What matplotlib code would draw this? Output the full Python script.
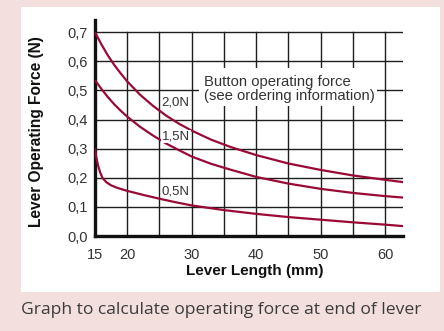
import matplotlib
matplotlib.use("Agg")
import matplotlib.pyplot as plt
from matplotlib.patches import Rectangle

plt.rcParams['font.family'] = ['Liberation Sans', 'DejaVu Sans']

# Lever length (mm) and operating force (N) for each button force
len_20 = [15, 16, 17, 18, 19, 20, 22, 24, 26, 28, 30, 33, 36, 40, 45, 50, 55, 60, 62.8]
force_20 = [0.700, 0.658, 0.620, 0.587, 0.558, 0.531, 0.485, 0.447, 0.414, 0.386,
            0.362, 0.331, 0.306, 0.278, 0.249, 0.227, 0.208, 0.193, 0.185]

len_15 = [15, 16, 17, 18, 19, 20, 22, 24, 26, 28, 30, 33, 36, 40, 45, 50, 55, 60, 62.8]
force_15 = [0.535, 0.505, 0.477, 0.452, 0.430, 0.410, 0.375, 0.345, 0.318, 0.295,
            0.273, 0.248, 0.228, 0.203, 0.180, 0.162, 0.148, 0.137, 0.132]

len_05 = [15, 15.2, 15.5, 15.8, 16.2, 16.8, 17.5, 18.5, 20, 22.5, 25, 27.5, 30,
          35, 40, 45, 50, 55, 60, 62.8]
force_05 = [0.300, 0.270, 0.240, 0.218, 0.198, 0.184, 0.174, 0.165, 0.155, 0.141,
            0.128, 0.116, 0.105, 0.089, 0.076, 0.065, 0.056, 0.047, 0.039, 0.034]

curve_labels = ['2,0N', '1,5N', '0,5N']
label_y = [0.459, 0.342, 0.153]

x_ticks = [15, 20, 30, 40, 50, 60]
x_minor = [25, 35, 45, 55]
y_ticks = [0.0, 0.1, 0.2, 0.3, 0.4, 0.5, 0.6, 0.7]
y_ticklabels = ['0,0', '0,1', '0,2', '0,3', '0,4', '0,5', '0,6', '0,7']

pink = '#f3dfde'
curve_col = '#990a35'
grid_col = '#1e1e1e'
text_col = '#333333'

fig = plt.figure(figsize=(4.44, 3.31), dpi=100, facecolor=pink)

# white panel behind the chart
fig.patches.append(Rectangle((0.0473, 0.118), 0.9437, 0.861, transform=fig.transFigure,
                             facecolor='white', edgecolor='none', zorder=-5))

ax = fig.add_axes([0.214, 0.287, 0.694, 0.6526])
ax.set_zorder(2)
ax.set_facecolor('white')
ax.set_xlim(15, 62.8)
ax.set_ylim(0, 0.742)

ax.set_xticks(x_ticks)
ax.set_xticks(x_minor, minor=True)
ax.set_yticks(y_ticks)
ax.set_yticklabels(y_ticklabels)
ax.tick_params(which='both', length=0, labelsize=10.5, labelcolor=text_col)
ax.tick_params(axis='x', pad=8.5)
ax.tick_params(axis='y', pad=5.5)

for v in x_ticks[1:] + x_minor:
    ax.axvline(v, ymax=0.7 / 0.742, color=grid_col, lw=1.0, zorder=1)
for v in y_ticks[1:]:
    ax.axhline(v, color=grid_col, lw=1.0, zorder=1)

for side in ['top', 'right']:
    ax.spines[side].set_visible(False)
ax.spines['left'].set_linewidth(2.4)
ax.spines['bottom'].set_linewidth(2.4)
ax.spines['left'].set_color('#111111')
ax.spines['bottom'].set_color('#111111')

# note box sits over the grid
ax.add_patch(Rectangle((31.1, 0.447), 27.7, 0.130, facecolor='white',
                       edgecolor='none', zorder=2))
ax.text(31.9, 0.506, 'Button operating force\n(see ordering information)',
        fontsize=10.7, color=text_col, va='center', ha='left', linespacing=1.0, zorder=3)

ax.plot(len_20, force_20, color=curve_col, lw=1.6, zorder=4, solid_capstyle='butt')
ax.plot(len_15, force_15, color=curve_col, lw=1.6, zorder=4, solid_capstyle='butt')
ax.plot(len_05, force_05, color=curve_col, lw=1.6, zorder=4, solid_capstyle='butt')

for name, yv in zip(curve_labels, label_y):
    ax.text(25.35, yv, name, fontsize=9.5, color=text_col, va='center', ha='left', zorder=5,
            bbox=dict(facecolor='white', edgecolor='none', pad=0.6))

ax.set_xlabel('Lever Length (mm)', fontsize=11, fontweight='bold', color='#111111')
ax.xaxis.set_label_coords(0.518, -0.13)
ax.set_ylabel('Lever Operating Force (N)', fontsize=11.2, fontweight='bold', color='#111111')
ax.yaxis.set_label_coords(-0.165, 0.484)

fig.text(0.047, 0.063, 'Graph to calculate operating force at end of lever',
         fontsize=12.6, color='#3c3c3c', ha='left', va='center', family='Open Sans')

fig.savefig('out.png', dpi=100, facecolor=pink)
